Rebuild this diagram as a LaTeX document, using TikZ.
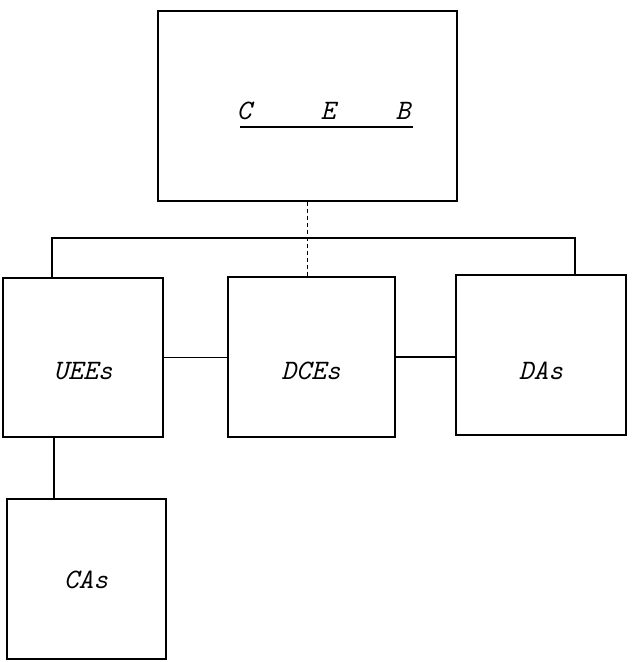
\documentclass[tikz,border=0pt]{standalone}
\usepackage{fontspec}
\begin{document}
\begin{tikzpicture}
[x=0.025cm,y=-0.025cm,
bloc/.style={draw,line width=0.9pt,inner sep=0pt},
lettre/.style={font=\fontsize{20}{24}\selectfont\ttfamily\itshape,inner sep=0pt},
lien/.style={line width=0.9pt}]
\useasboundingbox (0,0) rectangle (634,662);
% boites
\node[bloc,minimum width=7.475cm,minimum height=4.75cm] (ceb) at (307.5,106) {};
\node[bloc,minimum width=4cm,minimum height=3.975cm] (uees) at (83,357.5) {};
\node[bloc,minimum width=4.175cm,minimum height=4cm] (dces) at (311.5,357) {};
\node[bloc,minimum width=4.25cm,minimum height=4cm] (das) at (541,355) {};
\node[bloc,minimum width=3.975cm,minimum height=4cm] (cas) at (86.5,579) {};
% textes
\node[lettre] (c) at (244,111) {C};
\node[lettre] (e) at (328,111) {E};
\node[lettre] (b) at (403,111) {B};
\coordinate (sg) at (240,127);
\coordinate (sd) at (413,127);
\draw[lien] (sg) -- (sd);
\node[lettre] (t-uees) at (83,371) {UEEs};
\node[lettre] (t-dces) at (311,371) {DCEs};
\node[lettre] (t-das) at (541,371) {DAs};
\node[lettre] (t-cas) at (86,580) {CAs};
% liaisons
\coordinate (busg) at (52,238);
\coordinate (busd) at (575,238);
\coordinate (desc) at (54,468);
\draw[lien] (busg |- uees.north) -- (busg) -- (busd) -- (busd |- das.north);
\draw[thin,densely dashed] (ceb.south) -- (ceb.south |- dces.north);
\draw[lien] (uees.east) -- (uees.east -| dces.west);
\draw[lien] (dces.east) -- (dces.east -| das.west);
\draw[lien] (desc |- uees.south) -- (desc |- cas.north);

\end{tikzpicture}
\end{document}
